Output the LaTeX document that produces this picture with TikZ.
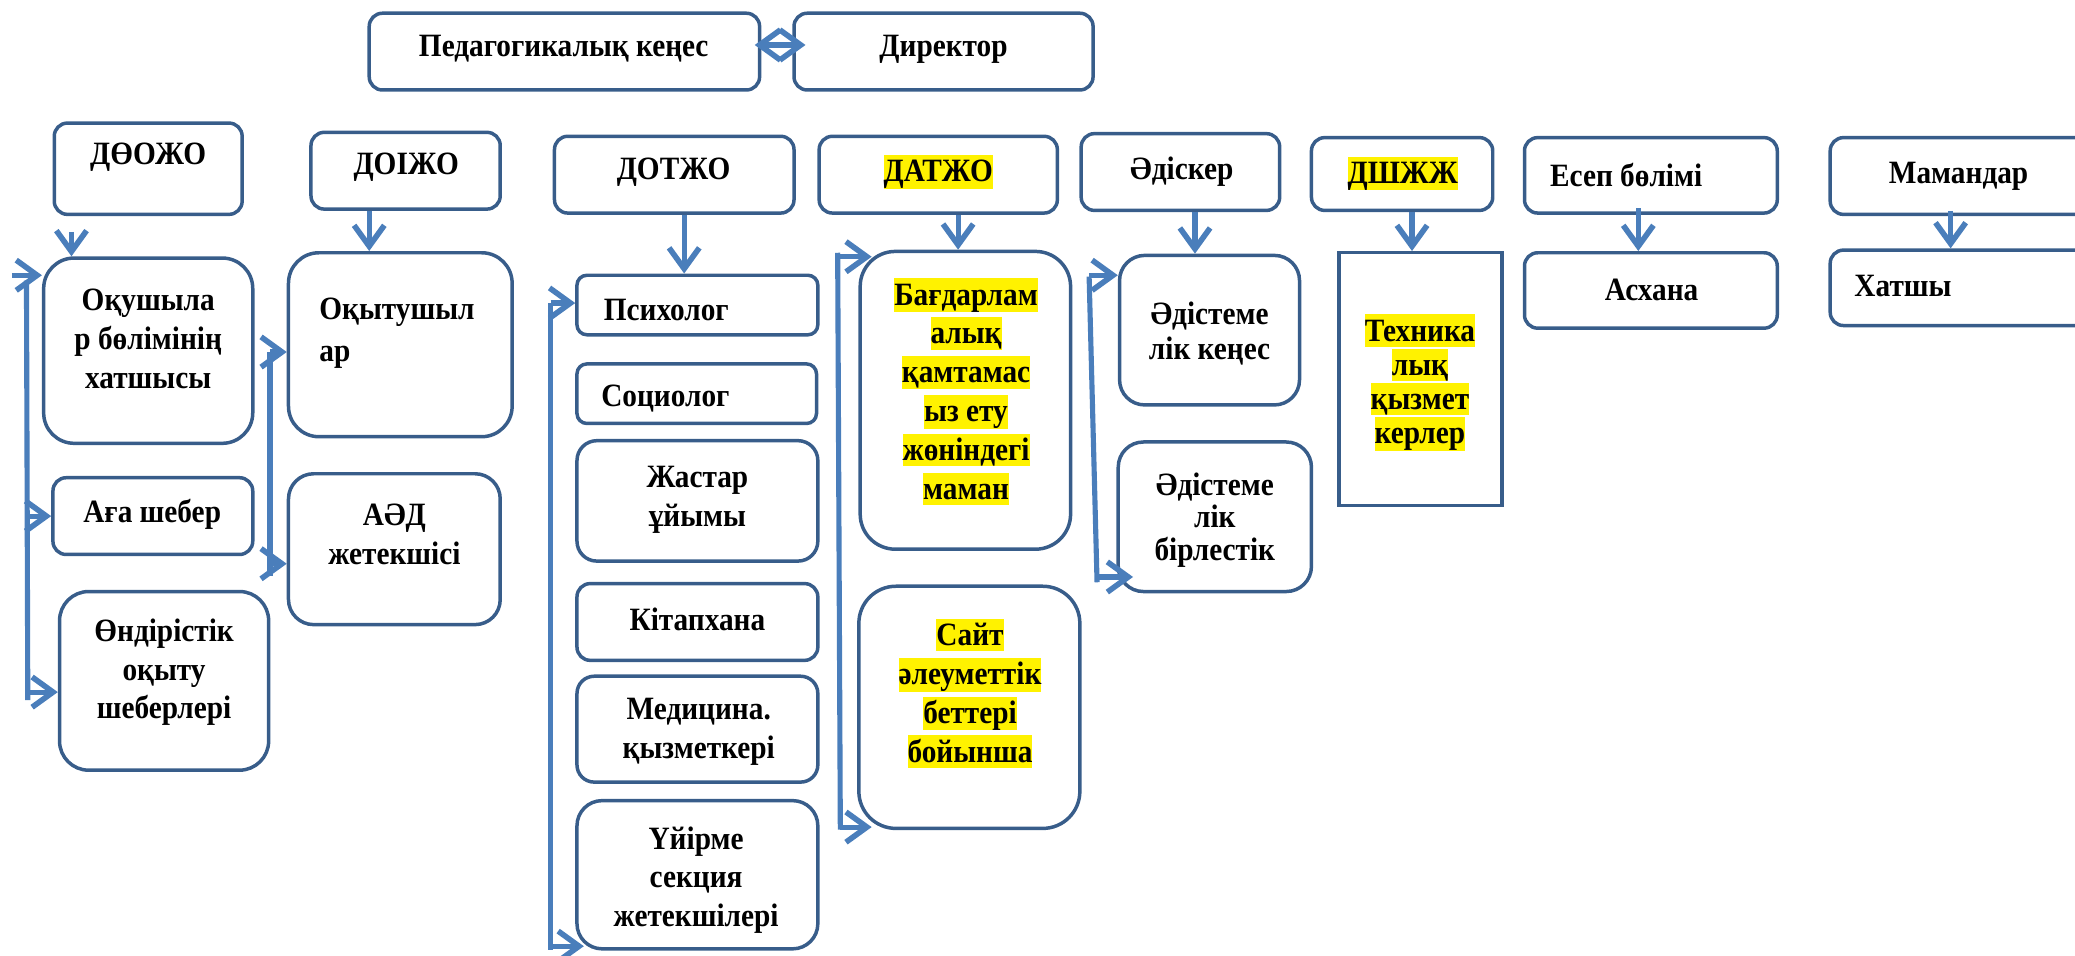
\documentclass[tikz,border=0pt]{standalone}
\usepackage{fontspec}
\setmainfont{Liberation Serif}[FakeStretch=0.9]
\usepackage{xcolor}
\usetikzlibrary{arrows.meta,calc,fit}

\definecolor{boxline}{RGB}{56,93,138}
\definecolor{arrowblue}{RGB}{74,126,187}
\newcommand{\hilite}[1]{{\setlength{\fboxsep}{0pt}\colorbox{yellow}{\rule[-2.5pt]{0pt}{14pt}#1}}}

\begin{document}
\begin{tikzpicture}[x=0.02cm,y=-0.02cm,
  box/.style={draw=boxline,line width=1.5pt,rounded corners=0.2cm,inner sep=0pt},
  txt/.style={font=\fontsize{14pt}{16.7pt}\selectfont\bfseries,align=center,inner sep=0pt},
  conn/.style={draw=arrowblue,line width=2.2pt,->},
  trunk/.style={draw=arrowblue,line width=2.2pt},
  >={Straight Barb[length=9pt,width=13pt,line width=2.4pt]}]
\useasboundingbox (0,0) rectangle (1568,722);

% top row
\node[box,fit={(279,10) (574,68)}] (ped) {};
\node[box,fit={(600,10) (826,68)}] (dir) {};
\node[txt] (ped-t) at (426,37) {Педагогикалық кеңес};
\node[txt] (dir-t) at (713,37) {Директор};
\draw[conn,<->,shorten <=-0.1cm,shorten >=-0.2cm] ($(ped.east)+(0,-5)$) -- ($(dir.west)+(0,-5)$);

% deputies
\node[box,fit={(41,93) (183,162)}] (doozho) {};
\node[box,fit={(235,100) (378,158)}] (doizho) {};
\node[box,fit={(419,103) (600,161)}] (dotzho) {};
\node[box,fit={(619,103) (799,161)}] (datzho) {};
\node[box,fit={(817,101) (967,159)}] (adisker) {};
\node[box,fit={(991,104) (1128,159)}] (dshzh) {};
\node[box,fit={(1152,104) (1343,161)}] (esep) {};
\node[box,fit={(1383,104) (1580,162)}] (maman) {};
\node[txt] (doozho-t) at (112,119) {ДӨОЖО};
\node[txt] (doizho-t) at (307,126) {ДОІЖО};
\node[txt] (dotzho-t) at (509,130) {ДОТЖО};
\node[txt] (datzho-t) at (709,130) {\hilite{ДАТЖО}};
\node[txt] (adisker-t) at (893,130) {Әдіскер};
\node[txt] (dshzh-t) at (1060,131) {\hilite{ДШЖЖ}};
\node[txt,anchor=west] (esep-t) at (1171,132) {Есеп бөлімі};
\node[txt] (maman-t) at (1480,133) {Мамандар};

% column 1
\node[box,rounded corners=0.46cm,fit={(33,195) (191,335)}] (okush) {};
\node[box,fit={(40,361) (191,419)}] (aga) {};
\node[box,rounded corners=0.44cm,fit={(45,447) (203,582)}] (ondir) {};
\node[txt] (okush-t) at (112,256) {Оқушыла\\р бөлімінің\\хатшысы};
\node[txt] (aga-t) at (115,389) {Аға шебер};
\node[txt] (ondir-t) at (124,508) {Өндірістік\\оқыту\\шеберлері};

% column 2
\node[box,rounded corners=0.46cm,fit={(218,191) (387,330)}] (okyt) {};
\node[box,rounded corners=0.38cm,fit={(218,358) (378,472)}] (aed) {};
\node[txt,align=left,anchor=west,font=\fontsize{14pt}{17.9pt}\selectfont\bfseries] (okyt-t) at (241,252) {Оқытушыл\\ар};
\node[txt] (aed-t) at (298,404) {АӘД\\жетекшісі};

% column 3
\node[box,rounded corners=0.15cm,fit={(436,208) (618,253)}] (psych) {};
\node[box,rounded corners=0.15cm,fit={(436,275) (617,320)}] (soc) {};
\node[box,rounded corners=0.3cm,fit={(436,333) (618,424)}] (zhastar) {};
\node[box,fit={(436,441) (618,499)}] (kitap) {};
\node[box,rounded corners=0.26cm,fit={(436,511) (618,591)}] (med) {};
\node[box,rounded corners=0.38cm,fit={(436,605) (618,717)}] (uyirme) {};
\node[txt,anchor=west] (psych-t) at (456,234) {Психолог};
\node[txt,anchor=west] (soc-t) at (454,301) {Социолог};
\node[txt] (zhastar-t) at (527,378) {Жастар\\ұйымы};
\node[txt] (kitap-t) at (527,468) {Кітапхана};
\node[txt] (med-t) at (528,553) {Медицина.\\қызметкері};
\node[txt] (uyirme-t) at (526,665) {Үйірме\\секция\\жетекшілері};

% column 4
\node[box,rounded corners=0.53cm,fit={(650,190) (809,415)}] (bagd) {};
\node[box,rounded corners=0.56cm,fit={(649,443) (816,626)}] (sait) {};
\node[txt] (bagd-t) at (730,296) {\hilite{Бағдарлам}\\\hilite{алық}\\\hilite{қамтамас}\\\hilite{ыз ету}\\\hilite{жөніндегі}\\\hilite{маман}};
\node[txt] (sait-t) at (733,524) {\hilite{Сайт}\\\hilite{әлеуметтік}\\\hilite{беттері}\\\hilite{бойынша}};

% column 5
\node[box,rounded corners=0.38cm,fit={(846,193) (982,306)}] (adk) {};
\node[box,rounded corners=0.38cm,fit={(845,334) (991,447)}] (adb) {};
\node[txt,font=\fontsize{14pt}{15pt}\selectfont\bfseries] (adk-t) at (914,252) {Әдістеме\\лік кеңес};
\node[txt,font=\fontsize{14pt}{14pt}\selectfont\bfseries] (adb-t) at (918,393) {Әдістеме\\лік\\бірлестік};

% columns 6-8
\node[draw=boxline,line width=1.5pt,inner sep=0pt,fit={(1012,191) (1135,382)}] (tech) {};
\node[box,fit={(1152,191) (1343,248)}] (ashana) {};
\node[box,fit={(1383,189) (1580,246)}] (hatshy) {};
\node[txt,font=\fontsize{14pt}{14.7pt}\selectfont\bfseries] (tech-t) at (1073,289) {\hilite{Техника}\\\hilite{лық}\\\hilite{қызмет}\\\hilite{керлер}};
\node[txt] (ashana-t) at (1248,219) {Асхана};
\node[txt,anchor=west] (hatshy-t) at (1401,216) {Хатшы};

% down arrows
\coordinate (a1) at (54,0);
\coordinate (a2) at (279,0);
\coordinate (a3) at (517,0);
\coordinate (a4) at (724,0);
\coordinate (a5) at (903,0);
\coordinate (a6) at (1067,0);
\coordinate (a7) at (1238,0);
\coordinate (a8) at (1474,0);
\draw[conn,shorten <=0.24cm] (doozho.south -| a1) -- (okush.north -| a1);
\draw[conn] (doizho.south -| a2) -- (okyt.north -| a2);
\draw[conn] (dotzho.south -| a3) -- (psych.north -| a3);
\draw[conn] (datzho.south -| a4) -- (bagd.north -| a4);
\draw[conn] (adisker.south -| a5) -- (adk.north -| a5);
\draw[conn] (dshzh.south -| a6) -- (tech.north -| a6);
\draw[conn,shorten <=-0.1cm] (esep.south -| a7) -- (ashana.north -| a7);
\draw[conn,shorten <=-0.08cm] (maman.south -| a8) -- (hatshy.north -| a8);

% side brackets
\coordinate (v1t) at (20,212);
\coordinate (v1b) at (21,529);
\coordinate (h1a) at (9,208);
\coordinate (h1b) at (21,523);
\draw[trunk] (v1t) -- (v1b);
\draw[conn] (h1a) -- (h1a -| okush.west);
\draw[conn] (aga.west -| v1t) -- (aga.west);
\draw[conn] (h1b) -- (h1b -| ondir.west);

\coordinate (v2t) at (204,266);
\coordinate (v2b) at (204,435);
\coordinate (h2b) at (204,426);
\draw[trunk] (v2t) -- (v2b);
\draw[conn] (v2t) -- (v2t -| okyt.west);
\draw[conn] (h2b) -- (h2b -| aed.west);

\coordinate (v3t) at (416,229);
\coordinate (v3b) at (416,718);
\coordinate (h3b) at (416,715);
\draw[trunk] (v3t) -- (v3b);
\draw[conn] (v3t) -- (v3t -| psych.west);
\draw[conn,shorten >=-0.13cm] (h3b) -- (h3b -| uyirme.west);

\coordinate (v4t) at (633,191);
\coordinate (v4b) at (635,627);
\coordinate (h4a) at (633,194);
\coordinate (h4b) at (635,625);
\draw[trunk] (v4t) -- (v4b);
\draw[conn,shorten >=-0.2cm] (h4a) -- (h4a -| bagd.west);
\draw[conn,shorten >=-0.22cm] (h4b) -- (h4b -| sait.west);

\coordinate (v5t) at (823,209);
\coordinate (v5b) at (829,440);
\coordinate (h5a) at (823,208);
\coordinate (h5b) at (829,436);
\draw[trunk] (v5t) -- (v5b);
\draw[conn] (h5a) -- (h5a -| adk.west);
\draw[conn,shorten >=-0.25cm] (h5b) -- (h5b -| adb.west);
\end{tikzpicture}
\end{document}
